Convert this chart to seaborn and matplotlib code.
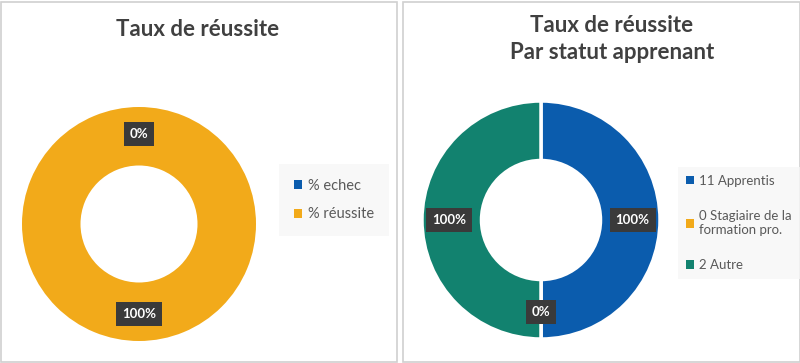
import numpy as np
import matplotlib
matplotlib.use("Agg")
import matplotlib.pyplot as plt
from matplotlib.patches import Rectangle, Patch
import seaborn as sns

# data
global_labels = ['% echec', '% réussite']
global_values = [0, 100]
statut_labels = ['11 Apprentis', '0 Stagiaire de la\nformation pro.', '2 Autre']
statut_values = [100, 0, 100]

blue = '#0B5CAD'
orange = '#F2AA1A'
green = '#12826F'

sns.set_style('white')
plt.rcParams['font.family'] = ['Lato', 'DejaVu Sans']

fig = plt.figure(figsize=(8, 3.63), dpi=100)

# panel frames
for x0, w in [(0.5, 396), (402.5, 397)]:
    fig.add_artist(Rectangle((x0 / 800, 1.5 / 363), w / 800, 360 / 363,
                             transform=fig.transFigure, fill=False,
                             ec='#D0D0D0', lw=1.2))


def donut(ax, values, colors, edge):
    wedges, _ = ax.pie(values, colors=colors, startangle=90, counterclock=False,
                       wedgeprops=dict(width=0.5, edgecolor='white', linewidth=edge))
    ax.set_xlim(-1, 1)
    ax.set_ylim(-1, 1)
    ax.set_aspect('equal')
    for w, v in zip(wedges, values):
        ang = np.deg2rad((w.theta1 + w.theta2) / 2)
        ax.text(0.77 * np.cos(ang), 0.77 * np.sin(ang), f'{v}%',
                ha='center', va='center', color='white', fontsize=9.5,
                fontweight='bold', zorder=5,
                bbox=dict(boxstyle='square,pad=0.45', fc='#3A3A3A', ec='none'))
    # plain square handles (no white edge)
    return [Patch(fc=c, ec='none') for c in colors]


legend_kw = dict(loc='center left', frameon=True, facecolor='#F7F7F7',
                 edgecolor='none', fancybox=False, labelcolor='#595959',
                 handlelength=0.6, handleheight=0.6, handletextpad=0.4,
                 borderaxespad=0)

ax1 = fig.add_axes([22 / 800, 22 / 363, 234 / 800, 234 / 363])
h1 = donut(ax1, global_values, [blue, orange], 0)
fig.text(198 / 800, 1 - 29 / 363, 'Taux de réussite', ha='center', va='center',
         fontsize=16, fontweight='bold', color='#404040')
fig.legend(h1, global_labels, bbox_to_anchor=(279 / 800, 1 - 200 / 363),
           fontsize=10.5, labelspacing=1.0, borderpad=1.0, **legend_kw)

ax2 = fig.add_axes([422 / 800, 24 / 363, 238 / 800, 238 / 363])
h2 = donut(ax2, statut_values, [blue, orange, green], 2.5)
fig.text(612 / 800, 1 - 39 / 363, 'Taux de réussite\nPar statut apprenant',
         ha='center', va='center', fontsize=16, fontweight='bold',
         color='#404040', linespacing=1.35)
fig.legend(h2, statut_labels, bbox_to_anchor=(678 / 800, 1 - 223 / 363),
           fontsize=9.5, labelspacing=1.75, borderpad=0.6, **legend_kw)

fig.savefig('out.png', dpi=100)
